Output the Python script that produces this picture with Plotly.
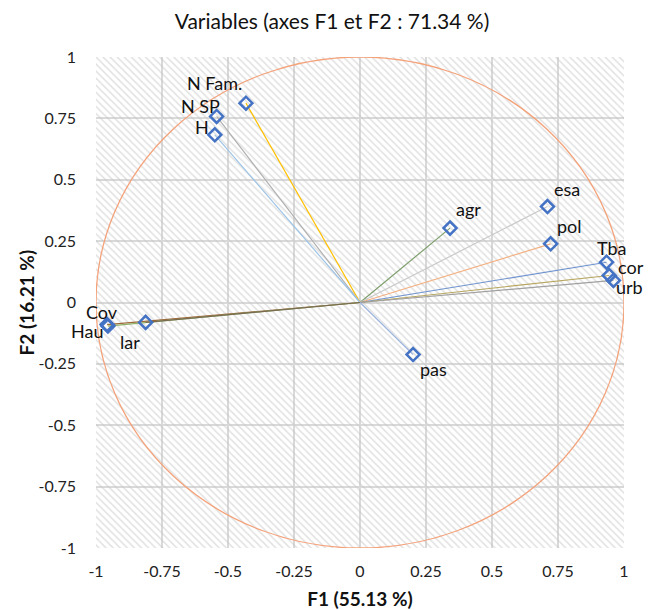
import numpy as np
import plotly.graph_objects as go

variables = ["N Fam.", "N SP", "H", "agr", "esa", "pol", "Tba", "cor", "urb", "Cov", "Hau", "lar", "pas"]
f1_values = [-0.432, -0.543, -0.550, 0.341, 0.710, 0.722, 0.934, 0.944, 0.960, -0.958, -0.955, -0.812, 0.201]
f2_values = [0.812, 0.758, 0.683, 0.303, 0.391, 0.239, 0.164, 0.110, 0.090, -0.090, -0.096, -0.081, -0.212]
tick_values = [-1, -0.75, -0.5, -0.25, 0, 0.25, 0.5, 0.75, 1]
tick_labels = ["-1", "-0.75", "-0.5", "-0.25", "0", "0.25", "0.5", "0.75", "1"]

line_colors = ["#FFC000", "#B0B0B0", "#9DC3E6", "#7FA06E", "#C9C9C9", "#F4B183",
               "#6F93CF", "#B8A760", "#A0A0A0", "#9E6A3A", "#8FB36B", "#7A6A50", "#9DB5E0"]
# label offsets in pixels (dx right, dy down) relative to each marker
label_dx = [-31, -16, -13, 18, 20, 19, 5, 22, 16, -5, -21, -16, 20]
label_dy = [-20, -10, -8, -19, -18, -18, -14, -9, 7, -13, 5, 20, 14]

FONT = "Lato, Liberation Sans, sans-serif"
W, H_, L, R, T, B = 648, 602, 88, 32, 49, 62

fig = go.Figure()

# hatched plot-area background
fig.add_trace(go.Scatter(
    x=[-1, 1, 1, -1, -1], y=[-1, -1, 1, 1, -1], mode="none", fill="toself",
    fillcolor="rgba(0,0,0,0)",
    fillpattern=dict(shape="\\", size=5, solidity=0.3, fgcolor="#C4C4C4"),
    hoverinfo="skip", showlegend=False))

# vectors from origin
for name, x, y, c in zip(variables, f1_values, f2_values, line_colors):
    fig.add_trace(go.Scatter(x=[0, x], y=[0, y], mode="lines",
                             line=dict(color=c, width=1.2), hoverinfo="skip", showlegend=False))

fig.add_trace(go.Scatter(
    x=f1_values, y=f2_values, mode="markers", cliponaxis=False,
    marker=dict(symbol="diamond-open", size=10, color="#4472C4", line=dict(width=2.5, color="#4472C4")),
    text=variables, hoverinfo="text+x+y", showlegend=False))

for name, x, y, dx, dy in zip(variables, f1_values, f2_values, label_dx, label_dy):
    fig.add_annotation(x=x, y=y, text=name, showarrow=False, xanchor="center", yanchor="middle",
                       xshift=dx, yshift=-dy, font=dict(family=FONT, size=18, color="#111111"))

# y-axis title as annotation for precise placement
fig.add_annotation(xref="paper", yref="paper", x=(18 - L) / (W - L - R), y=0.5,
                   text="<b>F2 (16.21 %)</b>", textangle=-90, showarrow=False,
                   xanchor="center", yanchor="middle",
                   font=dict(family=FONT, size=19, color="#111111"))

fig.add_shape(type="circle", x0=-1, y0=-1, x1=1, y1=1, xref="x", yref="y",
              line=dict(color="#F4A27A", width=1.3), layer="above")

fig.update_layout(
    width=W, height=H_,
    margin=dict(l=L, r=R, t=T, b=B),
    paper_bgcolor="white", plot_bgcolor="white",
    title=dict(text="Variables (axes F1 et F2 : 71.34 %)", x=0.5, xanchor="center",
               y=1 - 14 / H_, yanchor="middle", font=dict(family=FONT, size=21, color="#111111")),
    font=dict(family=FONT, size=16, color="#222222"),
    xaxis=dict(range=[-1, 1], tickvals=tick_values, ticktext=tick_labels, automargin=False,
               showgrid=True, gridcolor="#D9D9D9", gridwidth=1.5, zeroline=False,
               showline=False, ticks="", ticklabelstandoff=12,
               title=dict(text="<b>F1 (55.13 %)</b>", font=dict(family=FONT, size=19, color="#111111"), standoff=14)),
    yaxis=dict(range=[-1, 1], tickvals=tick_values, ticktext=tick_labels, automargin=False,
               showgrid=True, gridcolor="#D9D9D9", gridwidth=1.5, zeroline=False,
               showline=False, ticks="", ticklabelstandoff=19),
)

fig.write_html("out.html")
